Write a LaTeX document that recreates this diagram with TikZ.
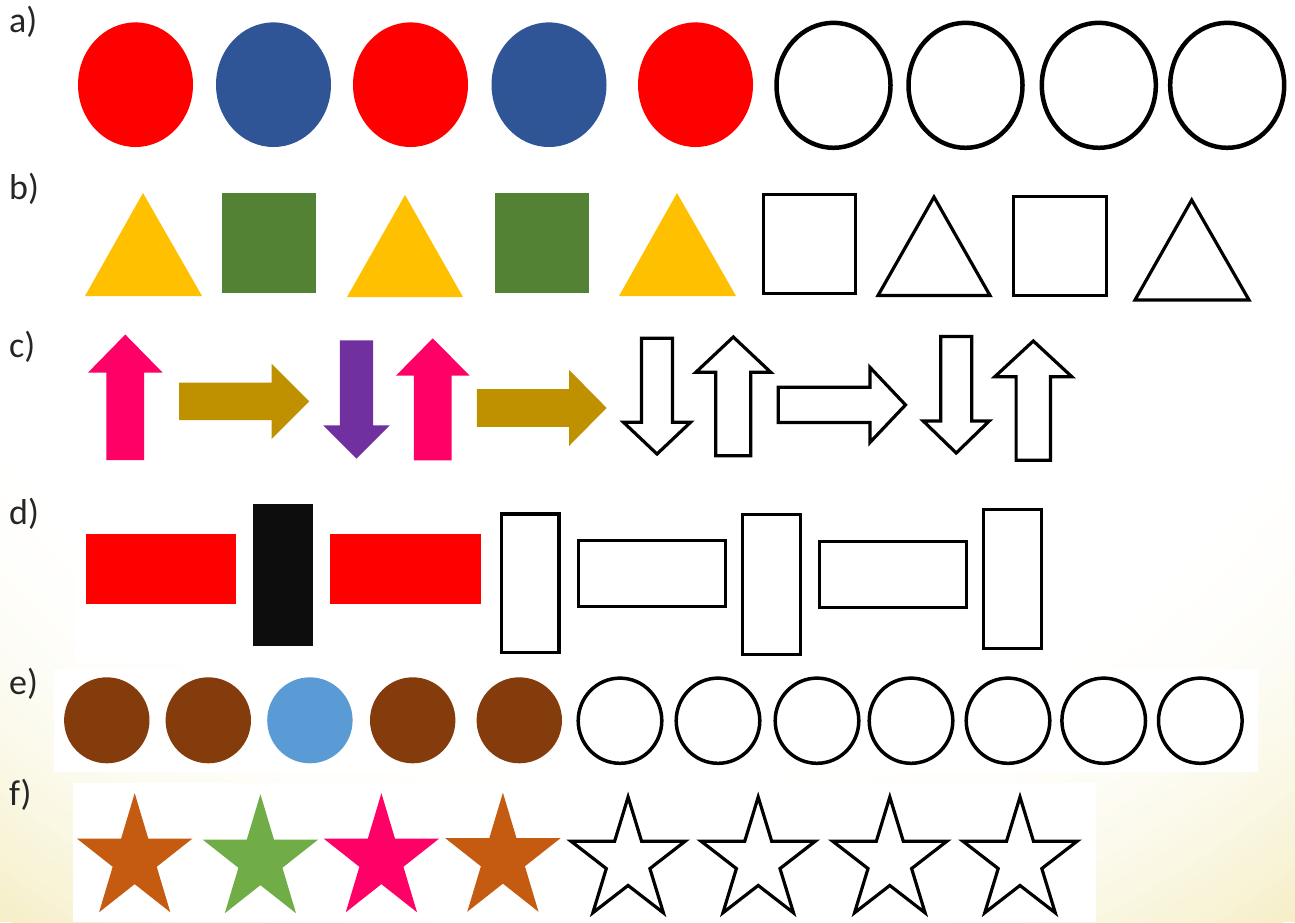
\documentclass[tikz,border=0pt]{standalone}
\usepackage{fontspec}
\setmainfont{Carlito}
\definecolor{bgy}{HTML}{F5EFC8}
\definecolor{cred}{HTML}{FF0000}
\definecolor{cblue}{HTML}{2F5597}
\definecolor{cyel}{HTML}{FFC000}
\definecolor{cgreen}{HTML}{548235}
\definecolor{cpink}{HTML}{FF0066}
\definecolor{cgold}{HTML}{BF9000}
\definecolor{cpurple}{HTML}{7030A0}
\definecolor{cblack}{HTML}{0D0D0D}
\definecolor{cbrown}{HTML}{843C0C}
\definecolor{clblue}{HTML}{5B9BD5}
\definecolor{corange}{HTML}{C55A11}
\definecolor{cgreenstar}{HTML}{70AD47}
\definecolor{ctext}{HTML}{262626}
\tikzset{
  lbl/.style={anchor=base west, inner sep=0pt, text=ctext, font=\fontsize{36}{40}\selectfont},
  outA/.style={draw=black, line width=4.5pt, fill=white},
  outl/.style={draw=black, line width=3.2pt, fill=white},
  pics/uparr/.style n args={4}{code={\path[pic actions] (-#4,#1) -- (-#4,#2) -- (-#3,#2) -- (0,0) -- (#3,#2) -- (#4,#2) -- (#4,#1) -- cycle;}},
  pics/downarr/.style n args={4}{code={\path[pic actions] (-#4,-#1) -- (-#4,-#2) -- (-#3,-#2) -- (0,0) -- (#3,-#2) -- (#4,-#2) -- (#4,-#1) -- cycle;}},
  pics/rightarr/.style n args={4}{code={\path[pic actions] (-#1,-#4) -- (-#2,-#4) -- (-#2,-#3) -- (0,0) -- (-#2,#3) -- (-#2,#4) -- (-#1,#4) -- cycle;}},
  pics/mystar/.style={code={\path[pic actions] (90:1) -- (126:0.382) -- (162:1) -- (198:0.382) -- (234:1) -- (270:0.382) -- (306:1) -- (342:0.382) -- (18:1) -- (54:0.382) -- cycle;}},
}
\begin{document}
\begin{tikzpicture}[x=1pt, y=-1pt]
\useasboundingbox (0,0) rectangle (1295,922);
% background: stepped radial tint towards the lower corners
\begin{scope}
\clip (0,0) rectangle (1295,922);
\fill[bgy] (0,0) rectangle (1295,922);
\foreach \k in {1,...,30}{
  \pgfmathsetmacro\s{(31-\k)/30}
  \pgfmathsetmacro\t{100*(\s-1/60)^2}
  \pgfmathsetmacro\rr{750+370*\s}
  \fill[bgy!\t!white] (647,0) ellipse [x radius=\rr pt, y radius=\rr pt];
}
\end{scope}
% white panels
\fill[white] (75,483) rectangle (1062,663);
\fill[white] (54,669) rectangle (1258,772);
\fill[white] (73,783) rectangle (1096,922);

% labels
\node[lbl] (la) at (9,32) {a)};
\node[lbl] (lb) at (9,199) {b)};
\node[lbl] (lc) at (9,357) {c)};
\node[lbl] (ld) at (9,524) {d)};
\node[lbl] (le) at (9,694) {e)};
\node[lbl] (lf) at (9,805) {f)};

% row a
\fill[cred]  (135.5,84.7) ellipse [x radius=57.5pt, y radius=62.3pt];
\fill[cblue] (273.5,84.7) ellipse [x radius=57.5pt, y radius=62.3pt];
\fill[cred]  (410.5,84.7) ellipse [x radius=57.5pt, y radius=62.3pt];
\fill[cblue] (549,84.7) ellipse [x radius=57.5pt, y radius=62.3pt];
\fill[cred]  (695.5,84.7) ellipse [x radius=57.5pt, y radius=62.3pt];
\path[outA] (833.5,85.3) ellipse [x radius=57pt, y radius=62.5pt];
\path[outA] (965.5,85.3) ellipse [x radius=57pt, y radius=62.5pt];
\path[outA] (1098.8,85.3) ellipse [x radius=57pt, y radius=62.5pt];
\path[outA] (1227.2,85.3) ellipse [x radius=57pt, y radius=62.5pt];

% row b
\fill[cyel] (85,296) -- (143,193) -- (202,296) -- cycle;
\fill[cgreen] (222,193) rectangle (316,293);
\fill[cyel] (347,297) -- (405,195) -- (463,297) -- cycle;
\fill[cgreen] (495,193) rectangle (589,293);
\fill[cyel] (619,296) -- (677,193) -- (736,296) -- cycle;
\path[outl] (763.5,194.5) rectangle (855.5,293.5);
\path[outl] (878,295.5) -- (934,197) -- (990,295.5) -- cycle;
\path[outl] (1013.2,196.5) rectangle (1106.2,295.2);
\path[outl] (1135,300) -- (1191.7,200) -- (1249,300) -- cycle;

% row c
\pic[fill=cpink] at (125.3,334.5) {uparr={125.5}{38}{37.2}{18.9}};
\pic[fill=cgold] at (309.3,401.4) {rightarr={130.2}{37.7}{37.7}{18.7}};
\pic[fill=cpurple] at (356.5,458.7) {downarr={118.4}{33.4}{33.2}{16.6}};
\pic[fill=cpink] at (432.8,338.3) {uparr={122}{37.4}{36.9}{18.9}};
\pic[fill=cgold] at (606.6,407.9) {rightarr={129.8}{37.4}{37.9}{18.9}};
\pic[outl] at (657,454) {downarr={115.8}{31.7}{33.5}{15.5}};
\pic[outl] at (733.3,337) {uparr={118.8}{35.3}{37.5}{17.5}};
\pic[outl] at (905.5,404.9) {rightarr={127.3}{35.5}{37.5}{17.6}};
\pic[outl] at (956.2,453) {downarr={116.5}{32}{33}{15.5}};
\pic[outl] at (1033.3,341) {uparr={119.2}{35.7}{38.5}{17.2}};

% row d
\fill[cred] (85.8,534.3) rectangle (236.3,604);
\fill[cblack] (252.5,504.3) rectangle (313,645.7);
\fill[cred] (330.4,534.3) rectangle (481,604);
\path[outl, line width=3.5pt] (501.4,514) rectangle (559.2,652.3);
\path[outl, line width=3.5pt] (578.7,540.7) rectangle (725.3,606.3);
\path[outl, line width=3.5pt] (742.7,514.7) rectangle (800.3,654.3);
\path[outl, line width=3.5pt] (819.7,541.7) rectangle (966.3,607.3);
\path[outl, line width=3.5pt] (983.7,509.7) rectangle (1041.3,648.3);

% row e
\fill[cbrown] (106.8,720.3) ellipse [x radius=42.7pt, y radius=43pt];
\fill[cbrown] (208.3,720.3) ellipse [x radius=42.7pt, y radius=43pt];
\fill[clblue] (309.9,720.3) ellipse [x radius=42.7pt, y radius=43pt];
\fill[cbrown] (412.7,720.3) ellipse [x radius=42.7pt, y radius=43pt];
\fill[cbrown] (519.3,720.3) ellipse [x radius=42.7pt, y radius=43pt];
\foreach \cx in {620,718,817,911,1008,1103.7,1200.3}
  \path[outl, line width=3.5pt] (\cx,720.7) ellipse [x radius=41.8pt, y radius=42.6pt];

% row f
\pic[fill=corange, xscale=60.6, yscale=-65.8] at (134.7,859) {mystar};
\pic[fill=cgreenstar, xscale=60.6, yscale=-65.8] at (260.4,860) {mystar};
\pic[fill=cpink, xscale=60.6, yscale=-65.8] at (381.4,859) {mystar};
\pic[fill=corange, xscale=60.6, yscale=-65.8] at (502.9,858.5) {mystar};
\foreach \cx in {628.1,758.2,889.8,1020}
  \pic[outl, xscale=60, yscale=-64] at (\cx,861) {mystar};
\end{tikzpicture}
\end{document}
